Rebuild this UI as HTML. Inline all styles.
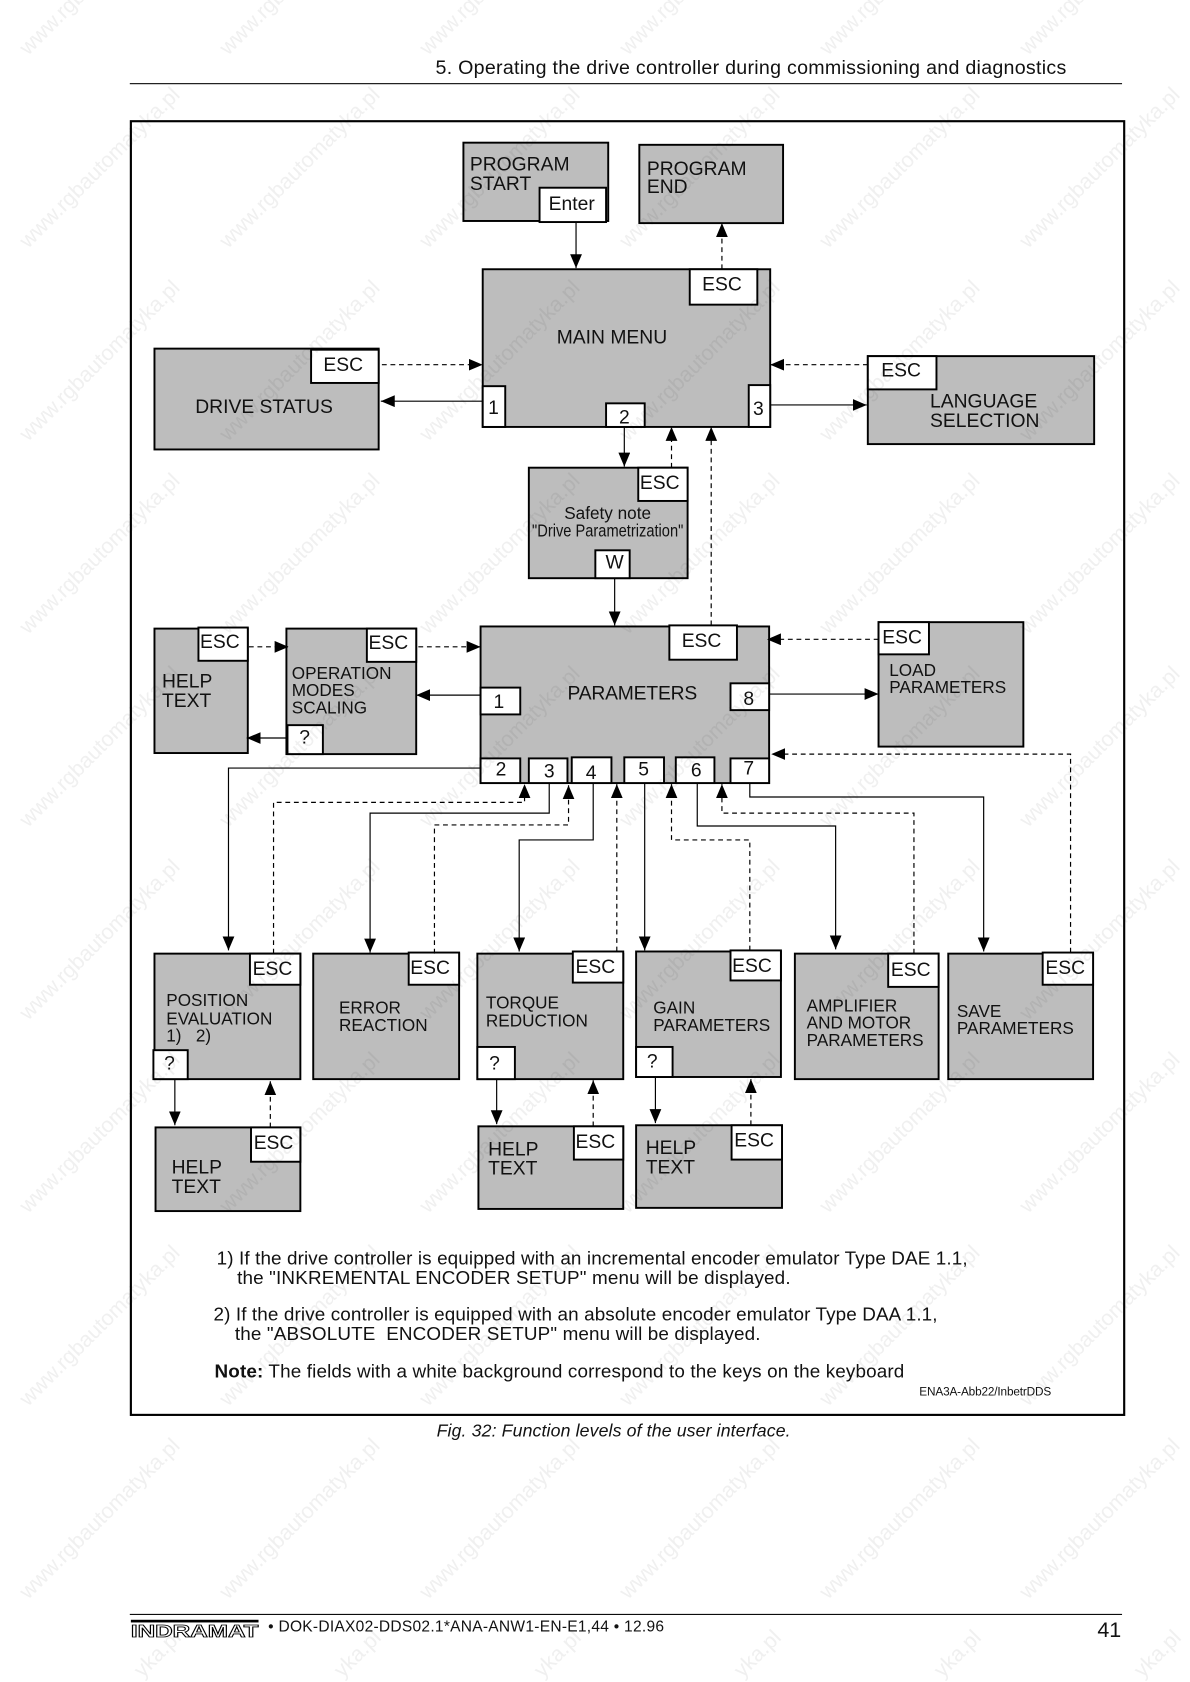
<!DOCTYPE html>
<html lang="en"><head><meta charset="utf-8"><title>Function levels of the user interface</title>
<style>
html,body{margin:0;padding:0;background:#fff;width:1190px;height:1682px;overflow:hidden}
svg{display:block}
text{font-family:"Liberation Sans",Arial,sans-serif;fill:#111}
.wm text{font-size:21.5px;fill:#f0f0f0}
.wm{mix-blend-mode:multiply}
.b{fill:#bdbdbd;stroke:#000;stroke-width:1.8}
.k{fill:#fff;stroke:#000;stroke-width:1.8}
.s,.d{fill:none;stroke:#000;stroke-width:1.1}
.d{stroke-dasharray:4.5 3.5}
.l{font-size:18px}
.m{font-size:16px}
.c{text-anchor:middle}
.t{font-size:17.6px}
</style></head><body>
<svg xmlns="http://www.w3.org/2000/svg" width="1190" height="1682" viewBox="0 0 1190 1682" style="overflow:hidden">
<defs>
<marker id="a" markerUnits="userSpaceOnUse" markerWidth="14" markerHeight="12" refX="13" refY="5.5" orient="auto"><path d="M0 0L13 5.5L0 11Z" fill="#000"/></marker>
</defs>
<g transform="scale(1.0727 1.0727)">
<!-- header / frame -->
<text x="406" y="69" font-size="18.300" textLength="588">5. Operating the drive controller during commissioning and diagnostics</text>
<rect x="121" y="77.5" width="925" height="1" fill="#000"/>
<rect x="122" y="113" width="926" height="1206" fill="none" stroke="#000" stroke-width="2"/>

<!-- boxes -->
<rect class="b" x="432" y="133" width="135" height="73"/>
<rect class="b" x="596" y="135" width="134" height="73"/>
<rect class="b" x="450" y="251" width="268" height="147"/>
<rect class="b" x="144" y="325" width="209" height="94"/>
<rect class="b" x="809" y="332" width="211" height="82"/>
<rect class="b" x="493" y="436" width="148" height="103"/>
<rect class="b" x="448" y="584" width="269" height="146"/>
<rect class="b" x="819" y="580" width="135" height="116"/>
<rect class="b" x="144" y="586" width="87" height="116"/>
<rect class="b" x="267" y="586" width="121" height="117"/>
<rect class="b" x="144" y="889" width="136" height="117"/>
<rect class="b" x="292" y="889" width="136" height="117"/>
<rect class="b" x="445" y="889" width="136" height="117"/>
<rect class="b" x="593" y="887" width="135" height="117"/>
<rect class="b" x="741" y="889" width="134" height="117"/>
<rect class="b" x="884" y="889" width="135" height="117"/>
<rect class="b" x="145" y="1051" width="135" height="78"/>
<rect class="b" x="446" y="1050" width="135" height="77"/>
<rect class="b" x="593" y="1049" width="136" height="77"/>

<!-- keys -->
<rect class="k" x="503" y="175" width="62" height="32"/>
<rect class="k" x="643" y="251" width="63" height="33"/>
<rect class="k" x="450" y="360" width="21" height="38"/>
<rect class="k" x="565" y="376" width="36" height="22"/>
<rect class="k" x="698" y="359" width="20" height="39"/>
<rect class="k" x="290" y="326" width="63" height="31"/>
<rect class="k" x="809" y="332" width="64" height="31"/>
<rect class="k" x="595" y="436" width="46" height="31"/>
<rect class="k" x="555" y="513" width="32" height="26"/>
<rect class="k" x="624" y="583" width="63" height="32"/>
<rect class="k" x="448" y="641" width="37" height="25"/>
<rect class="k" x="681" y="637" width="36" height="25"/>
<rect class="k" x="448" y="707" width="37" height="23"/>
<rect class="k" x="493" y="707" width="36" height="23"/>
<rect class="k" x="533" y="706" width="37" height="24"/>
<rect class="k" x="582" y="706" width="37" height="24"/>
<rect class="k" x="630" y="706" width="36" height="24"/>
<rect class="k" x="681" y="707" width="36" height="23"/>
<rect class="k" x="819" y="580" width="47" height="30"/>
<rect class="k" x="185" y="585" width="46" height="31"/>
<rect class="k" x="342" y="586" width="46" height="31"/>
<rect class="k" x="268" y="676" width="33" height="27"/>
<rect class="k" x="233" y="889" width="47" height="29"/>
<rect class="k" x="143" y="979" width="32" height="27"/>
<rect class="k" x="381" y="888" width="47" height="30"/>
<rect class="k" x="534" y="887" width="47" height="29"/>
<rect class="k" x="445" y="976" width="35" height="30"/>
<rect class="k" x="681" y="886" width="47" height="28"/>
<rect class="k" x="593" y="976" width="34" height="28"/>
<rect class="k" x="828" y="889" width="47" height="31"/>
<rect class="k" x="972" y="888" width="47" height="30"/>
<rect class="k" x="234" y="1051" width="46" height="32"/>
<rect class="k" x="535" y="1050" width="46" height="31"/>
<rect class="k" x="682" y="1049" width="47" height="32"/>

<!-- connectors -->
<path class="s" marker-end="url(#a)" d="M537 207V250"/>
<path class="d" marker-end="url(#a)" d="M673 251V208"/>
<path class="d" marker-end="url(#a)" d="M356 340H450"/>
<path class="s" marker-end="url(#a)" d="M450 374H355"/>
<path class="d" marker-end="url(#a)" d="M809 340H718"/>
<path class="s" marker-end="url(#a)" d="M718 377.500H808"/>
<path class="s" marker-end="url(#a)" d="M582 398V435"/>
<path class="d" marker-end="url(#a)" d="M626 436V398"/>
<path class="d" marker-end="url(#a)" d="M663 583V398"/>
<path class="s" marker-end="url(#a)" d="M573 539V583"/>
<path class="d" marker-end="url(#a)" d="M819 596H715"/>
<path class="s" marker-end="url(#a)" d="M717 647H819"/>
<path class="s" marker-end="url(#a)" d="M448 648H388"/>
<path class="d" marker-end="url(#a)" d="M390 603H448"/>
<path class="d" marker-end="url(#a)" d="M232 603H269"/>
<path class="s" marker-end="url(#a)" d="M268 688H230"/>
<path class="s" marker-end="url(#a)" d="M448 716H213V886"/>
<path class="d" marker-end="url(#a)" d="M255 889V748H489V731"/>
<path class="s" marker-end="url(#a)" d="M512 730V758H345V888"/>
<path class="d" marker-end="url(#a)" d="M405 889V769H530V732"/>
<path class="s" marker-end="url(#a)" d="M553 730V783H484V887"/>
<path class="d" marker-end="url(#a)" d="M575 887V731"/>
<path class="s" marker-end="url(#a)" d="M601 730V886"/>
<path class="d" marker-end="url(#a)" d="M699 886V783H626V731"/>
<path class="s" marker-end="url(#a)" d="M650 730V770H779V885"/>
<path class="d" marker-end="url(#a)" d="M852 889V758H673V731"/>
<path class="s" marker-end="url(#a)" d="M699 730V743H917V887"/>
<path class="d" marker-end="url(#a)" d="M998 888V703H719"/>
<path class="s" marker-end="url(#a)" d="M163 1006V1049"/>
<path class="d" marker-end="url(#a)" d="M252 1051V1008"/>
<path class="s" marker-end="url(#a)" d="M463 1006V1048"/>
<path class="d" marker-end="url(#a)" d="M553 1050V1007"/>
<path class="s" marker-end="url(#a)" d="M611 1004V1047"/>
<path class="d" marker-end="url(#a)" d="M700 1049V1006"/>

<!-- box labels -->
<text class="l" x="438" y="159">PROGRAM</text><text class="l" x="438" y="177">START</text>
<text class="l" x="603" y="163">PROGRAM</text><text class="l" x="603" y="180">END</text>
<text class="l" x="519" y="320">MAIN MENU</text>
<text class="l" x="182" y="385">DRIVE STATUS</text>
<text class="l" x="867" y="380">LANGUAGE</text><text class="l" x="867" y="398">SELECTION</text>
<text class="m" x="526" y="484">Safety note</text>
<text class="m" x="496" y="500" textLength="141" lengthAdjust="spacingAndGlyphs">"Drive Parametrization"</text>
<text class="l" x="529" y="652" textLength="121">PARAMETERS</text>
<text class="m" x="829" y="630">LOAD</text><text class="m" x="829" y="646">PARAMETERS</text>
<text class="l" x="151" y="641">HELP</text><text class="l" x="151" y="659">TEXT</text>
<text class="m" x="272" y="633">OPERATION</text><text class="m" x="272" y="649">MODES</text><text class="m" x="272" y="665">SCALING</text>
<text class="m" x="155" y="938">POSITION</text><text class="m" x="155" y="955">EVALUATION</text><text class="m" x="155" y="971" xml:space="preserve">1)   2)</text>
<text class="m" x="316" y="945">ERROR</text><text class="m" x="316" y="961">REACTION</text>
<text class="m" x="453" y="940">TORQUE</text><text class="m" x="453" y="957">REDUCTION</text>
<text class="m" x="609" y="945">GAIN</text><text class="m" x="609" y="961">PARAMETERS</text>
<text class="m" x="752" y="943">AMPLIFIER</text><text class="m" x="752" y="959">AND MOTOR</text><text class="m" x="752" y="975">PARAMETERS</text>
<text class="m" x="892" y="948">SAVE</text><text class="m" x="892" y="964">PARAMETERS</text>
<text class="l" x="160" y="1094">HELP</text><text class="l" x="160" y="1112">TEXT</text>
<text class="l" x="455" y="1077">HELP</text><text class="l" x="455" y="1095">TEXT</text>
<text class="l" x="602" y="1076">HELP</text><text class="l" x="602" y="1094">TEXT</text>

<!-- key labels -->
<text class="l c" x="533" y="196">Enter</text>
<text class="l c" x="673" y="271">ESC</text>
<text class="l c" x="320" y="346">ESC</text>
<text class="l c" x="840" y="351">ESC</text>
<text class="l c" x="460" y="386">1</text>
<text class="l c" x="582" y="395">2</text>
<text class="l c" x="707" y="387">3</text>
<text class="l c" x="615" y="456">ESC</text>
<text class="l c" x="573" y="530">W</text>
<text class="l c" x="654" y="603">ESC</text>
<text class="l c" x="841" y="600">ESC</text>
<text class="l c" x="205" y="604">ESC</text>
<text class="l c" x="362" y="605">ESC</text>
<text class="l c" x="284" y="693">?</text>
<text class="l c" x="465" y="660">1</text>
<text class="l c" x="698" y="657">8</text>
<text class="l c" x="467" y="723">2</text>
<text class="l c" x="512" y="725">3</text>
<text class="l c" x="551" y="726">4</text>
<text class="l c" x="600" y="723">5</text>
<text class="l c" x="649" y="724">6</text>
<text class="l c" x="698" y="722">7</text>
<text class="l c" x="254" y="909">ESC</text>
<text class="l c" x="158" y="997">?</text>
<text class="l c" x="401" y="908">ESC</text>
<text class="l c" x="555" y="907">ESC</text>
<text class="l c" x="461" y="997">?</text>
<text class="l c" x="701" y="906">ESC</text>
<text class="l c" x="608" y="995">?</text>
<text class="l c" x="849" y="910">ESC</text>
<text class="l c" x="993" y="908">ESC</text>
<text class="l c" x="255" y="1071">ESC</text>
<text class="l c" x="555" y="1070">ESC</text>
<text class="l c" x="703" y="1069">ESC</text>

<!-- notes -->
<text class="t" x="202" y="1179" textLength="700">1) If the drive controller is equipped with an incremental encoder emulator Type DAE 1.1,</text>
<text class="t" x="221" y="1197" textLength="516">the "INKREMENTAL ENCODER SETUP" menu will be displayed.</text>
<text class="t" x="199" y="1231" textLength="675">2) If the drive controller is equipped with an absolute encoder emulator Type DAA 1.1,</text>
<text class="t" x="219" y="1249" textLength="490" xml:space="preserve">the "ABSOLUTE  ENCODER SETUP" menu will be displayed.</text>
<text class="t" x="200" y="1284" textLength="643"><tspan font-weight="bold">Note:</tspan> The fields with a white background correspond to the keys on the keyboard</text>
<text x="857" y="1301" font-size="11" textLength="123">ENA3A-Abb22/InbetrDDS</text>
<text x="407" y="1339" font-size="16.500" font-style="italic" textLength="330">Fig. 32: Function levels of the user interface.</text>

<!-- footer -->
<rect x="121" y="1504.500" width="925" height="1" fill="#000"/>
<rect x="122" y="1510" width="119" height="2.500" fill="#000"/>
<text x="122" y="1526" font-size="16" font-weight="bold" stroke="#000" stroke-width=".8" style="fill:#fff" textLength="119" lengthAdjust="spacingAndGlyphs">INDRAMAT</text>
<text x="250" y="1521" font-size="14.500" textLength="369">• DOK-DIAX02-DDS02.1*ANA-ANW1-EN-E1,44 • 12.96</text>
<text x="1023" y="1526" font-size="20">41</text>
</g>

<!-- watermark -->
<g class="wm">
<text transform="translate(28 56) rotate(-45)">www.rgbautomatyka.pl</text><text transform="translate(228 56) rotate(-45)">www.rgbautomatyka.pl</text><text transform="translate(428 56) rotate(-45)">www.rgbautomatyka.pl</text><text transform="translate(628 56) rotate(-45)">www.rgbautomatyka.pl</text><text transform="translate(828 56) rotate(-45)">www.rgbautomatyka.pl</text><text transform="translate(1028 56) rotate(-45)">www.rgbautomatyka.pl</text>
<text transform="translate(28 249) rotate(-45)">www.rgbautomatyka.pl</text><text transform="translate(228 249) rotate(-45)">www.rgbautomatyka.pl</text><text transform="translate(428 249) rotate(-45)">www.rgbautomatyka.pl</text><text transform="translate(628 249) rotate(-45)">www.rgbautomatyka.pl</text><text transform="translate(828 249) rotate(-45)">www.rgbautomatyka.pl</text><text transform="translate(1028 249) rotate(-45)">www.rgbautomatyka.pl</text>
<text transform="translate(28 442) rotate(-45)">www.rgbautomatyka.pl</text><text transform="translate(228 442) rotate(-45)">www.rgbautomatyka.pl</text><text transform="translate(428 442) rotate(-45)">www.rgbautomatyka.pl</text><text transform="translate(628 442) rotate(-45)">www.rgbautomatyka.pl</text><text transform="translate(828 442) rotate(-45)">www.rgbautomatyka.pl</text><text transform="translate(1028 442) rotate(-45)">www.rgbautomatyka.pl</text>
<text transform="translate(28 635) rotate(-45)">www.rgbautomatyka.pl</text><text transform="translate(228 635) rotate(-45)">www.rgbautomatyka.pl</text><text transform="translate(428 635) rotate(-45)">www.rgbautomatyka.pl</text><text transform="translate(628 635) rotate(-45)">www.rgbautomatyka.pl</text><text transform="translate(828 635) rotate(-45)">www.rgbautomatyka.pl</text><text transform="translate(1028 635) rotate(-45)">www.rgbautomatyka.pl</text>
<text transform="translate(28 828) rotate(-45)">www.rgbautomatyka.pl</text><text transform="translate(228 828) rotate(-45)">www.rgbautomatyka.pl</text><text transform="translate(428 828) rotate(-45)">www.rgbautomatyka.pl</text><text transform="translate(628 828) rotate(-45)">www.rgbautomatyka.pl</text><text transform="translate(828 828) rotate(-45)">www.rgbautomatyka.pl</text><text transform="translate(1028 828) rotate(-45)">www.rgbautomatyka.pl</text>
<text transform="translate(28 1021) rotate(-45)">www.rgbautomatyka.pl</text><text transform="translate(228 1021) rotate(-45)">www.rgbautomatyka.pl</text><text transform="translate(428 1021) rotate(-45)">www.rgbautomatyka.pl</text><text transform="translate(628 1021) rotate(-45)">www.rgbautomatyka.pl</text><text transform="translate(828 1021) rotate(-45)">www.rgbautomatyka.pl</text><text transform="translate(1028 1021) rotate(-45)">www.rgbautomatyka.pl</text>
<text transform="translate(28 1214) rotate(-45)">www.rgbautomatyka.pl</text><text transform="translate(228 1214) rotate(-45)">www.rgbautomatyka.pl</text><text transform="translate(428 1214) rotate(-45)">www.rgbautomatyka.pl</text><text transform="translate(628 1214) rotate(-45)">www.rgbautomatyka.pl</text><text transform="translate(828 1214) rotate(-45)">www.rgbautomatyka.pl</text><text transform="translate(1028 1214) rotate(-45)">www.rgbautomatyka.pl</text>
<text transform="translate(28 1407) rotate(-45)">www.rgbautomatyka.pl</text><text transform="translate(228 1407) rotate(-45)">www.rgbautomatyka.pl</text><text transform="translate(428 1407) rotate(-45)">www.rgbautomatyka.pl</text><text transform="translate(628 1407) rotate(-45)">www.rgbautomatyka.pl</text><text transform="translate(828 1407) rotate(-45)">www.rgbautomatyka.pl</text><text transform="translate(1028 1407) rotate(-45)">www.rgbautomatyka.pl</text>
<text transform="translate(28 1600) rotate(-45)">www.rgbautomatyka.pl</text><text transform="translate(228 1600) rotate(-45)">www.rgbautomatyka.pl</text><text transform="translate(428 1600) rotate(-45)">www.rgbautomatyka.pl</text><text transform="translate(628 1600) rotate(-45)">www.rgbautomatyka.pl</text><text transform="translate(828 1600) rotate(-45)">www.rgbautomatyka.pl</text><text transform="translate(1028 1600) rotate(-45)">www.rgbautomatyka.pl</text>
<text transform="translate(142.500 1678.500) rotate(-45)">yka.pl</text><text transform="translate(342.500 1678.500) rotate(-45)">yka.pl</text><text transform="translate(542.500 1678.500) rotate(-45)">yka.pl</text><text transform="translate(742.500 1678.500) rotate(-45)">yka.pl</text><text transform="translate(942.500 1678.500) rotate(-45)">yka.pl</text><text transform="translate(1142.500 1678.500) rotate(-45)">yka.pl</text>
</g>
</svg>
</body></html>
